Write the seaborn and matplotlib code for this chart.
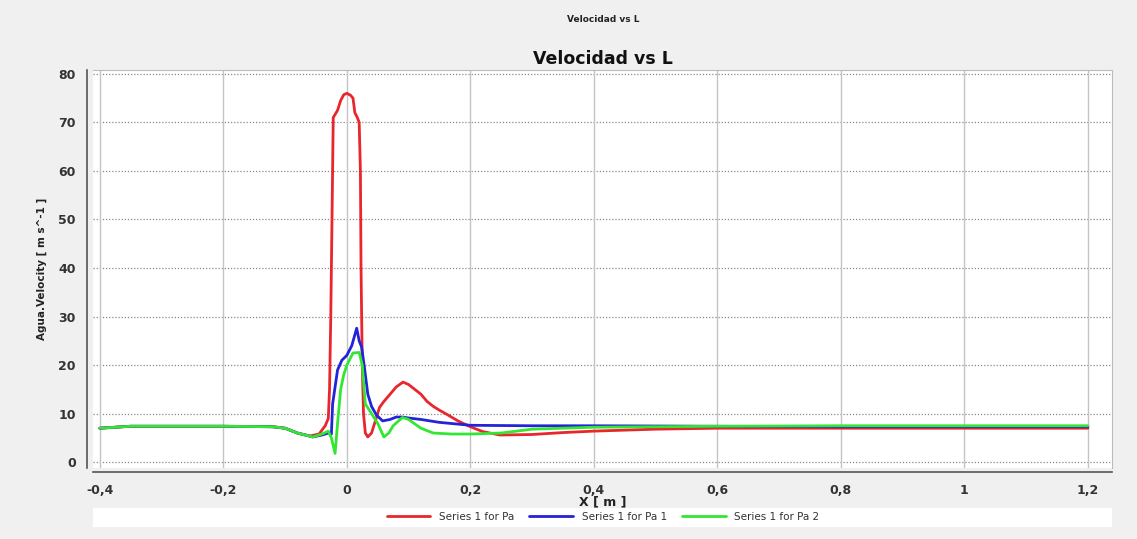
import numpy as np
import pandas as pd
import matplotlib
matplotlib.use("Agg")
import matplotlib.pyplot as plt
import matplotlib.ticker as mticker
from matplotlib.patches import Rectangle
import seaborn as sns

# ---- data ----
x_pa = [-0.4, -0.35, -0.2, -0.12, -0.1, -0.08, -0.06, -0.045, -0.035, -0.03, -0.028, -0.026,
        -0.024, -0.022, -0.015, -0.01, -0.005, 0.0, 0.006, 0.01, 0.013, 0.017, 0.02, 0.022,
        0.023, 0.025, 0.027, 0.03, 0.034, 0.04, 0.045, 0.053, 0.06, 0.07, 0.08, 0.091, 0.1,
        0.11, 0.12, 0.13, 0.14, 0.15, 0.16, 0.18, 0.2, 0.22, 0.248, 0.3, 0.35, 0.4, 0.5, 0.6,
        0.8, 1.0, 1.2]
v_pa = [7.0, 7.4, 7.4, 7.3, 7.0, 6.0, 5.4, 5.8, 7.5, 9.0, 15.0, 30.0,
        50.0, 71.0, 72.5, 74.5, 75.7, 76.0, 75.6, 75.0, 72.0, 71.0, 70.0, 60.0,
        40.0, 20.0, 10.0, 6.0, 5.2, 6.0, 8.0, 11.3, 12.5, 14.0, 15.5, 16.5, 16.0,
        15.0, 14.0, 12.5, 11.5, 10.7, 10.0, 8.5, 7.3, 6.3, 5.6, 5.7, 6.1, 6.4, 6.8, 7.0,
        7.0, 7.0, 7.0]

x_pa1 = [-0.4, -0.35, -0.2, -0.12, -0.1, -0.08, -0.055, -0.04, -0.03, -0.025, -0.023,
         -0.015, -0.008, 0.0, 0.008, 0.016, 0.02, 0.024, 0.028, 0.034, 0.04, 0.048, 0.058,
         0.07, 0.08, 0.09, 0.1, 0.12, 0.15, 0.2, 0.3, 0.4, 0.6, 0.8, 1.0, 1.2]
v_pa1 = [7.0, 7.4, 7.4, 7.3, 7.0, 6.0, 5.2, 5.6, 6.0, 5.8, 12.0,
         19.0, 21.0, 22.0, 24.0, 27.6, 25.0, 23.7, 20.0, 14.0, 11.5, 9.7, 8.5,
         8.8, 9.3, 9.3, 9.1, 8.8, 8.2, 7.6, 7.5, 7.5, 7.4, 7.3, 7.3, 7.3]

x_pa2 = [-0.4, -0.35, -0.2, -0.12, -0.1, -0.08, -0.055, -0.04, -0.03, -0.025, -0.019,
         -0.015, -0.01, -0.005, 0.0, 0.01, 0.02, 0.025, 0.03, 0.04, 0.05, 0.06, 0.068,
         0.075, 0.09, 0.1, 0.12, 0.14, 0.17, 0.2, 0.25, 0.3, 0.4, 0.6, 0.8, 1.0, 1.2]
v_pa2 = [7.0, 7.4, 7.4, 7.3, 7.0, 6.0, 5.2, 5.8, 6.4, 5.0, 1.8,
         8.0, 15.0, 18.0, 20.0, 22.5, 22.6, 20.0, 12.0, 10.0, 8.0, 5.2, 6.0,
         7.5, 9.2, 8.8, 7.0, 6.0, 5.8, 5.8, 6.0, 6.8, 7.2, 7.4, 7.5, 7.5, 7.5]

series_names = ["Series 1 for Pa", "Series 1 for Pa 1", "Series 1 for Pa 2"]
series_colors = ["#e8262b", "#2323d8", "#33e633"]
x_ticks = [-0.4, -0.2, 0.0, 0.2, 0.4, 0.6, 0.8, 1.0, 1.2]
y_ticks = [0, 10, 20, 30, 40, 50, 60, 70, 80]

df = pd.concat([
    pd.DataFrame({"x": x_pa, "v": v_pa, "s": series_names[0]}),
    pd.DataFrame({"x": x_pa1, "v": v_pa1, "s": series_names[1]}),
    pd.DataFrame({"x": x_pa2, "v": v_pa2, "s": series_names[2]}),
], ignore_index=True)

sns.set_style("white")
plt.rcParams['font.family'] = ['DejaVu Sans']

fig = plt.figure(figsize=(11.37, 5.39), dpi=100, facecolor="#f0f0f0")
ax = fig.add_axes([93/1137, 1-468/539, (1112-93)/1137, (468-70)/539])
ax.set_facecolor("white")

# draw order: green first? reference shows red on top at peak, green over blue at left
sns.lineplot(data=df, x="x", y="v", hue="s", palette=dict(zip(series_names, series_colors)),
             sort=False, estimator=None, linewidth=2.0, ax=ax, legend=False)

ax.set_xlim(-0.411, 1.239)
ax.set_ylim(-1.2, 80.8)
ax.set_xticks(x_ticks)
ax.set_yticks(y_ticks)
ax.xaxis.set_minor_locator(mticker.MultipleLocator(0.05))
ax.yaxis.set_minor_locator(mticker.MultipleLocator(2))

def fmt(v, pos):
    if abs(v - round(v)) < 1e-9:
        return "%d" % round(v)
    return ("%.1f" % v).replace(".", ",")
ax.xaxis.set_major_formatter(mticker.FuncFormatter(fmt))

ax.grid(False)
for yt in y_ticks:
    ax.axhline(yt, color="#8a8a8a", linestyle=(0, (1, 1.5)), linewidth=0.9, zorder=0)
for xt in x_ticks:
    ax.axvline(xt, color="#c4c4c4", linestyle="-", linewidth=1.0, zorder=0)

for side in ["top", "right"]:
    ax.spines[side].set_color("#bbbbbb")
    ax.spines[side].set_linewidth(0.8)
for side in ["left", "bottom"]:
    ax.spines[side].set_color("#555555")
    ax.spines[side].set_linewidth(1.2)
ax.spines["left"].set_position(("outward", 4))
ax.spines["bottom"].set_position(("outward", 3))

ax.tick_params(axis="both", which="major", direction="out", length=5, width=1.2,
               color="#555555", labelsize=9, labelcolor="#333333")
ax.tick_params(axis="both", which="minor", direction="out", length=3, width=1.0, color="#555555")
for lbl in ax.get_xticklabels() + ax.get_yticklabels():
    lbl.set_fontweight("bold")

ax.set_xlabel("X [ m ]", fontsize=9, fontweight="bold", color="#222222", labelpad=-1)
ax.set_ylabel("Agua.Velocity [ m s^-1 ]", fontsize=7.5, fontweight="bold", color="#222222", labelpad=8)
ax.set_title("Velocidad vs L", fontsize=12.5, fontweight="bold", color="#111111", pad=4)

fig.text(603/1137, 1-20/539, "Velocidad vs L", ha="center", va="center",
         fontsize=6.5, fontweight="bold", color="#222222")

# legend box
fig.patches.append(Rectangle((93/1137, 1-527/539), (1112-93)/1137, 19/539,
                             transform=fig.transFigure, facecolor="white", edgecolor="none", zorder=0))
handles = [plt.Line2D([0], [0], color=c, linewidth=2.0) for c in series_colors]
fig.legend(handles, series_names, loc="center", bbox_to_anchor=(603/1137, 1-517/539),
           ncol=3, frameon=False, fontsize=7.5, handlelength=4.2, columnspacing=1.5,
           labelcolor="#333333")

fig.savefig("out.png", dpi=100, facecolor=fig.get_facecolor())
